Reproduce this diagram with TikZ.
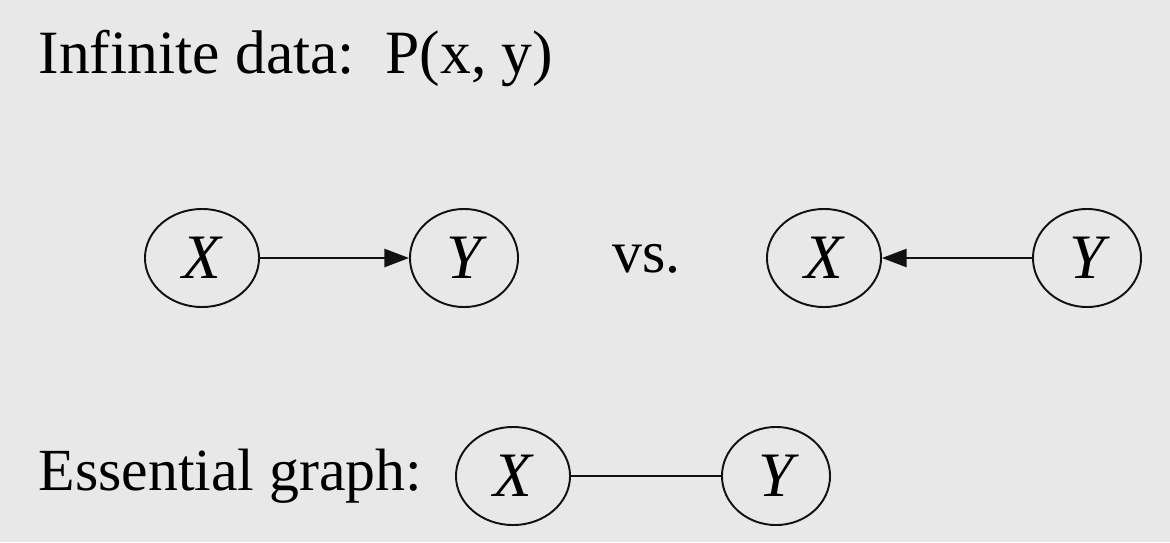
\documentclass[tikz,border=0pt]{standalone}
\usepackage{fontspec}
\setmainfont{Liberation Serif}
\usepackage{xcolor}
\usetikzlibrary{arrows.meta, shapes.geometric}
\definecolor{fond}{HTML}{E8E8E8}
\definecolor{trait}{HTML}{111111}

\tikzset{
  var/.style={ellipse, draw=trait, line width=0.55pt, minimum width=1.14cm,
    minimum height=0.98cm, inner sep=0pt, font=\fontsize{18}{20}\selectfont\itshape},
  lab/.style={anchor=base west, inner sep=0pt, font=\fontsize{17.5}{21}\selectfont},
  fleche/.style={draw=trait, line width=0.45pt, -{Triangle[length=7pt, width=5.2pt]}}
}

\begin{document}
\begin{tikzpicture}[x=0.01cm, y=-0.01cm]
    \fill[fond] (0,0) rectangle (1170,542);
    \useasboundingbox (0,0) rectangle (1170,542);
    % top line
    \node[lab] (titre) at (38,73) {Infinite data:\ \ P(x,\ y)};
    % X -> Y
    \node[var] (x1) at (202,258) {X};
    \node[var, minimum width=1.08cm] (y1) at (464,258) {Y};
    \draw[fleche] (x1) -- (y1);
    \node[lab, font=\fontsize{17}{20}\selectfont] (vs) at (612,272) {vs.};
    % X <- Y
    \node[var] (x2) at (824,258) {X};
    \node[var, minimum width=1.08cm] (y2) at (1087,258) {Y};
    \draw[fleche] (y2) -- (x2);
    % essential graph
    \node[lab, font=\fontsize{17}{21}\selectfont] (ess) at (38,490) {Essential graph:};
    \node[var] (x3) at (513,476) {X};
    \node[var, minimum width=1.08cm] (y3) at (776,476) {Y};
    \draw[draw=trait, line width=0.45pt] (x3) -- (y3);
  \end{tikzpicture}
\end{document}
